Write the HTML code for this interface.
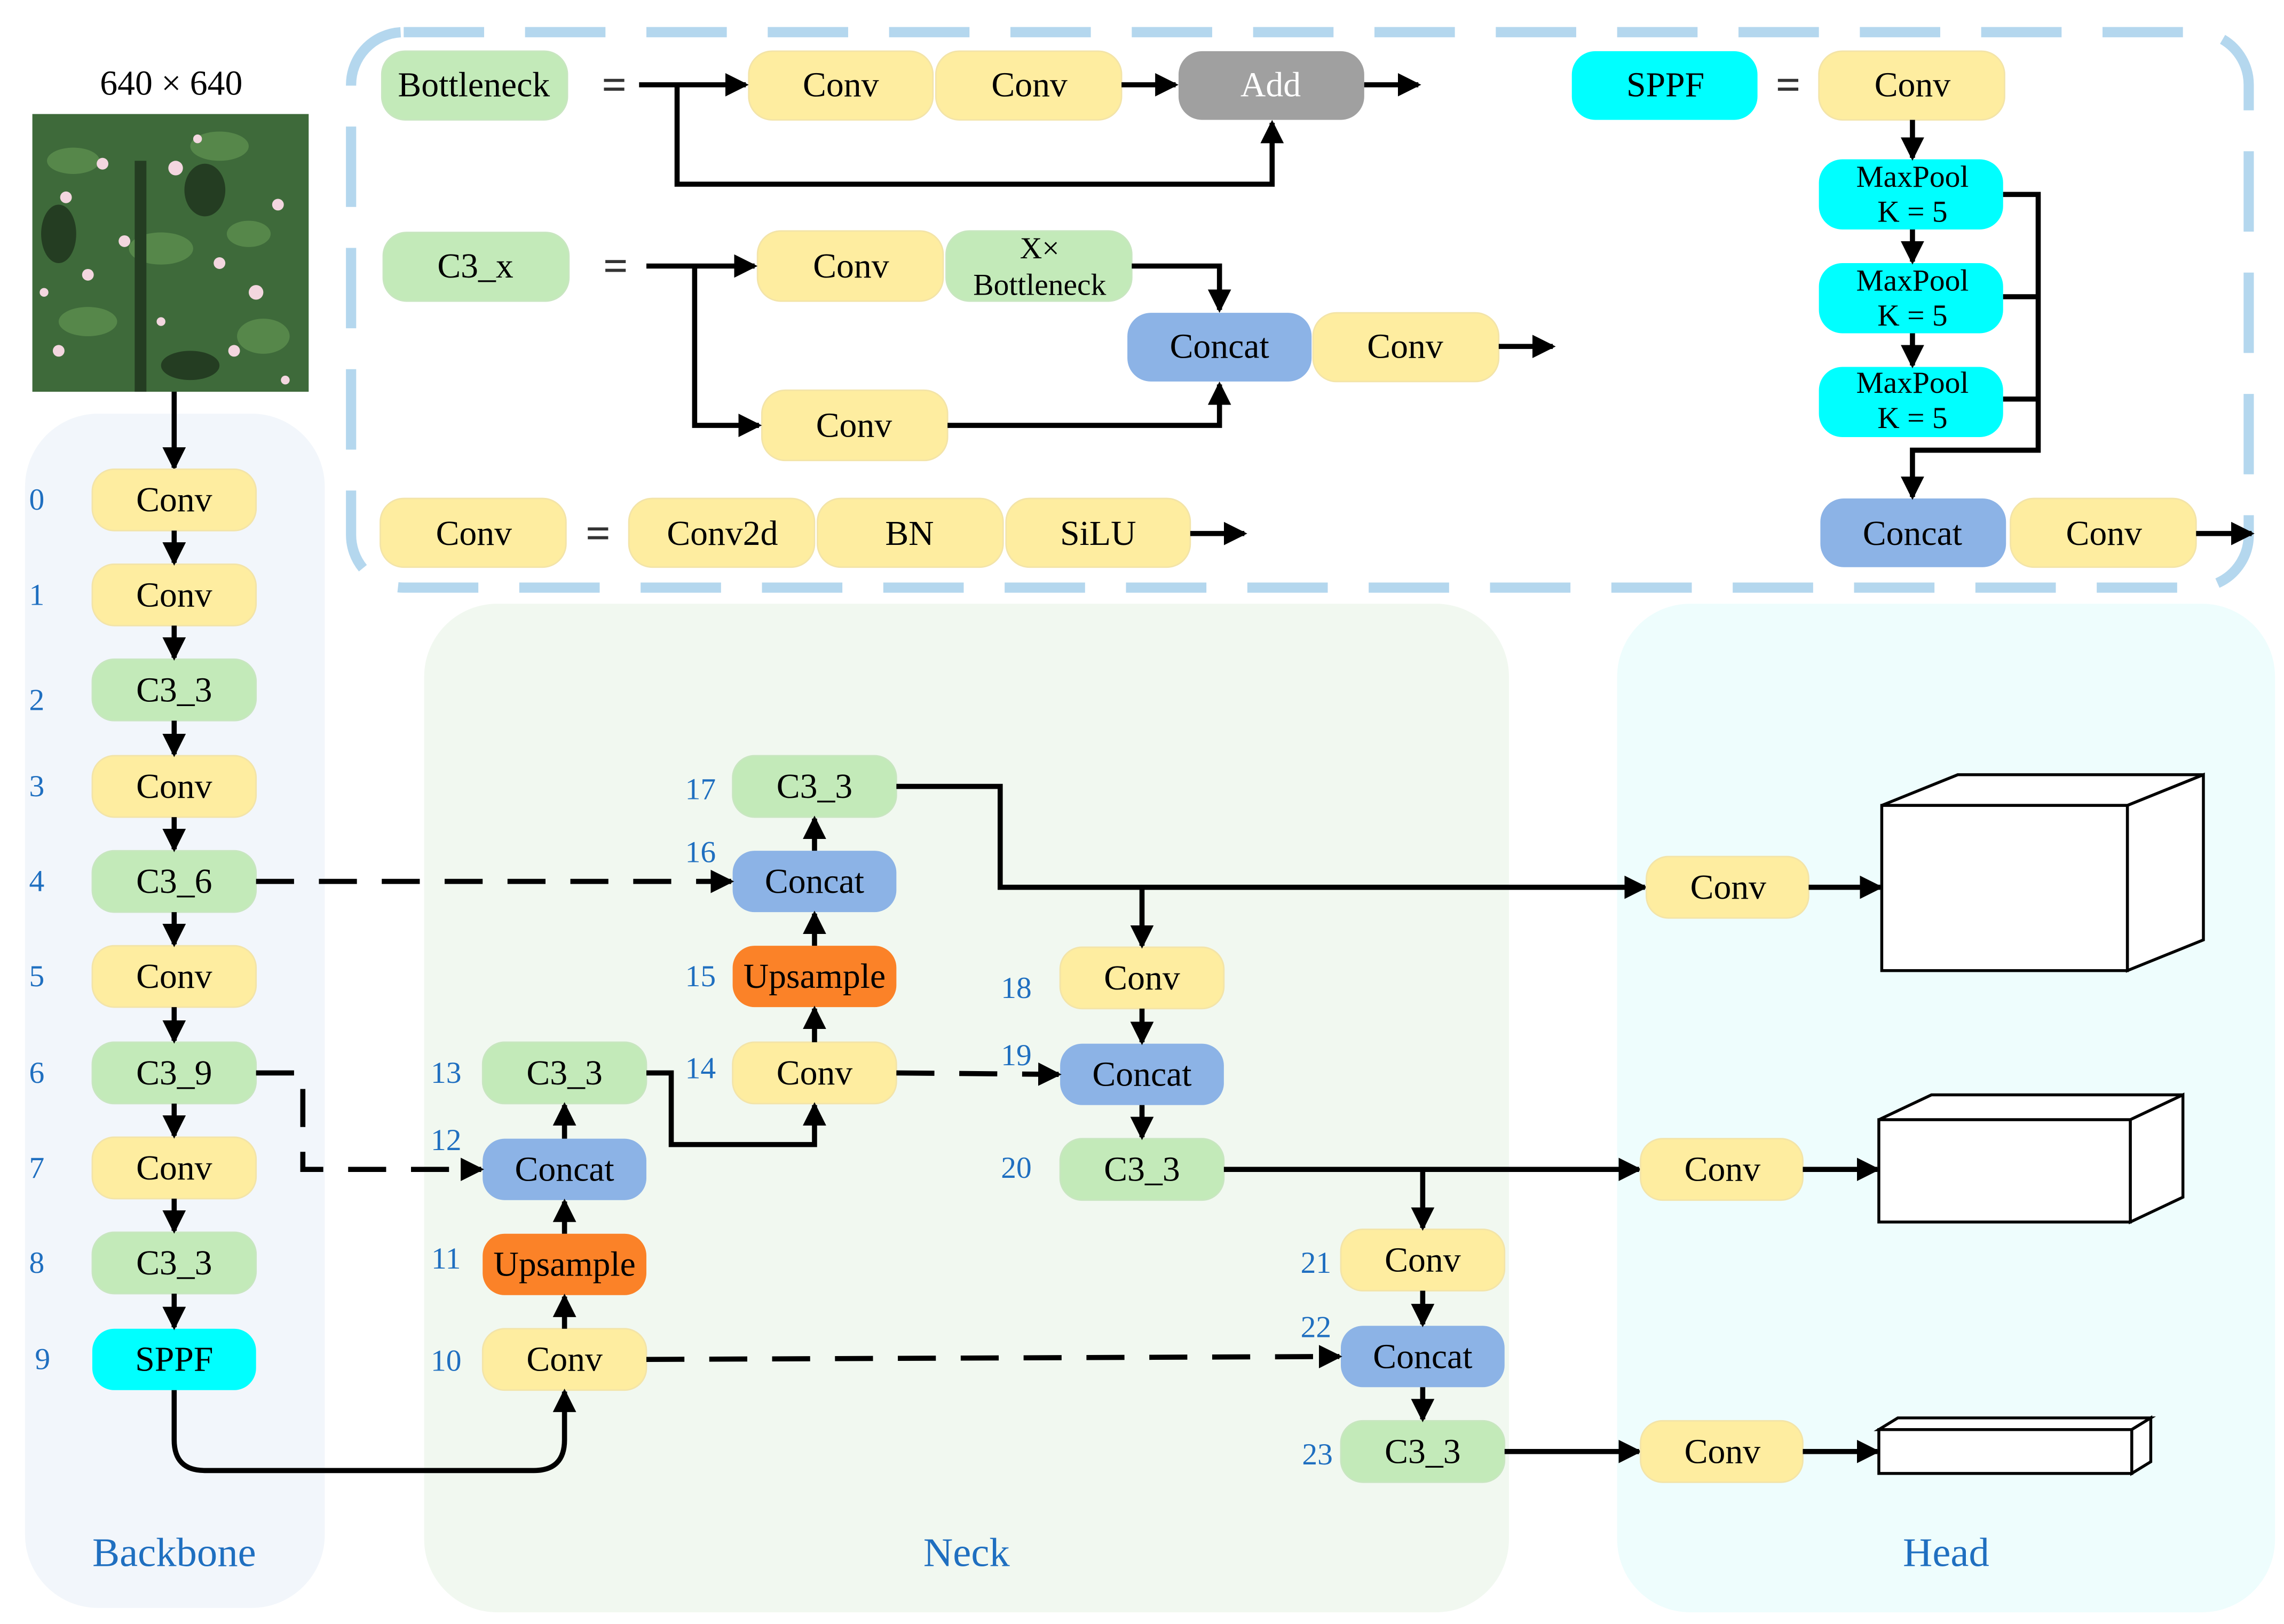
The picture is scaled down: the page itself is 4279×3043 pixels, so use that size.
<!DOCTYPE html>
<html><head><meta charset="utf-8"><style>
html,body{margin:0;padding:0;background:#fff}
svg{display:block}
text{font-family:"Liberation Serif",serif;}
.t{font-size:24px;fill:#000;text-anchor:middle;dominant-baseline:central}
.n{font-size:21px;fill:#1f6fc0;text-anchor:middle;dominant-baseline:central}
.l{stroke:#000;stroke-width:3.5;fill:none}
.d{stroke:#000;stroke-width:3.5;fill:none;stroke-dasharray:26 17}
.y{fill:#feeda0;stroke:#f3e4a8;stroke-width:1}
.g{fill:#c3eab9;stroke:#c8e6c0;stroke-width:1}
.c{fill:#00ffff}
.b{fill:#8cb3e6}
.o{fill:#fb8228}
.eq{font-size:30px;fill:#333;text-anchor:middle;dominant-baseline:central;font-weight:bold}
</style></head><body>
<svg width="4279" height="3043" viewBox="0 0 1562 1111" xmlns="http://www.w3.org/2000/svg">
<defs>
<marker id="a" markerUnits="userSpaceOnUse" markerWidth="16" markerHeight="16" refX="14" refY="8" orient="auto">
<path d="M0,0 L16,8 L0,16 Z" fill="#000"/>
</marker>
</defs>
<rect x="17" y="283" width="205" height="817" rx="50" fill="#f2f6fb"/>
<rect x="290" y="413" width="742" height="690" rx="50" fill="#f1f8f0"/>
<rect x="1106" y="413" width="450" height="690" rx="50" fill="#eefdfd"/>
<rect x="240" y="22" width="1298" height="380" rx="36" fill="none" stroke="#b4d7ee" stroke-width="7" stroke-dasharray="55 28"/>

<text x="117" y="57" class="t" style="font-size:24px">640 × 640</text>
<rect x="22" y="78" width="189" height="190" fill="#3e6a3a"/>
<g fill="#5d8f4f" opacity="0.8">
<ellipse cx="50" cy="110" rx="18" ry="9"/><ellipse cx="150" cy="100" rx="20" ry="10"/><ellipse cx="110" cy="170" rx="22" ry="11"/>
<ellipse cx="60" cy="220" rx="20" ry="10"/><ellipse cx="180" cy="230" rx="18" ry="12"/><ellipse cx="170" cy="160" rx="15" ry="9"/>
</g>
<g fill="#243d22"><rect x="92" y="110" width="8" height="158"/><ellipse cx="40" cy="160" rx="12" ry="20"/><ellipse cx="140" cy="130" rx="14" ry="18"/><ellipse cx="130" cy="250" rx="20" ry="10"/></g>
<g fill="#f3d6df">
<circle cx="45" cy="135" r="4"/><circle cx="70" cy="112" r="4"/><circle cx="120" cy="115" r="5"/><circle cx="60" cy="188" r="4"/><circle cx="85" cy="165" r="4"/>
<circle cx="190" cy="140" r="4"/><circle cx="175" cy="200" r="5"/><circle cx="150" cy="180" r="4"/><circle cx="40" cy="240" r="4"/><circle cx="195" cy="260" r="3"/>
<circle cx="110" cy="220" r="3"/><circle cx="135" cy="95" r="3"/><circle cx="30" cy="200" r="3"/><circle cx="160" cy="240" r="4"/>
</g>
<path class="l" d="M119 268 V320" marker-end="url(#a)"/>

<g>
<rect class="y" x="63" y="321" width="112" height="42" rx="15"/><text class="t" x="119" y="342">Conv</text>
<rect class="y" x="63" y="386" width="112" height="42" rx="15"/><text class="t" x="119" y="407">Conv</text>
<rect class="g" x="63" y="451" width="112" height="42" rx="15"/><text class="t" x="119" y="472">C3_3</text>
<rect class="y" x="63" y="517" width="112" height="42" rx="15"/><text class="t" x="119" y="538">Conv</text>
<rect class="g" x="63" y="582" width="112" height="42" rx="15"/><text class="t" x="119" y="603">C3_6</text>
<rect class="y" x="63" y="647" width="112" height="42" rx="15"/><text class="t" x="119" y="668">Conv</text>
<rect class="g" x="63" y="713" width="112" height="42" rx="15"/><text class="t" x="119" y="734">C3_9</text>
<rect class="y" x="63" y="778" width="112" height="42" rx="15"/><text class="t" x="119" y="799">Conv</text>
<rect class="g" x="63" y="843" width="112" height="42" rx="15"/><text class="t" x="119" y="864">C3_3</text>
<rect class="c" x="63" y="909" width="112" height="42" rx="15"/><text class="t" x="119" y="930">SPPF</text>
</g>
<text class="n" x="25" y="342">0</text><text class="n" x="25" y="407">1</text><text class="n" x="25" y="479">2</text><text class="n" x="25" y="538">3</text>
<text class="n" x="25" y="603">4</text><text class="n" x="25" y="668">5</text><text class="n" x="25" y="734">6</text><text class="n" x="25" y="799">7</text>
<text class="n" x="25" y="864">8</text><text class="n" x="29" y="930">9</text>
<g class="l">
<path d="M119 363 V385" marker-end="url(#a)"/><path d="M119 428 V450" marker-end="url(#a)"/><path d="M119 493 V516" marker-end="url(#a)"/>
<path d="M119 559 V581" marker-end="url(#a)"/><path d="M119 624 V646" marker-end="url(#a)"/><path d="M119 689 V712" marker-end="url(#a)"/>
<path d="M119 755 V777" marker-end="url(#a)"/><path d="M119 820 V842" marker-end="url(#a)"/><path d="M119 885 V908" marker-end="url(#a)"/>
</g>
<text x="119" y="1062" style="font-size:28px;fill:#1f6fc0;text-anchor:middle;dominant-baseline:central">Backbone</text>
<text x="661" y="1062" style="font-size:28px;fill:#1f6fc0;text-anchor:middle;dominant-baseline:central">Neck</text>
<text x="1331" y="1062" style="font-size:28px;fill:#1f6fc0;text-anchor:middle;dominant-baseline:central">Head</text>

<rect class="y" x="330" y="909" width="112" height="42" rx="15"/><text class="t" x="386" y="930">Conv</text>
<rect class="o" x="330" y="844" width="112" height="42" rx="15"/><text class="t" x="386" y="865">Upsample</text>
<rect class="b" x="330" y="779" width="112" height="42" rx="15"/><text class="t" x="386" y="800">Concat</text>
<rect class="g" x="330" y="713" width="112" height="42" rx="15"/><text class="t" x="386" y="734">C3_3</text>
<rect class="y" x="501" y="713" width="112" height="42" rx="15"/><text class="t" x="557" y="734">Conv</text>
<rect class="o" x="501" y="647" width="112" height="42" rx="15"/><text class="t" x="557" y="668">Upsample</text>
<rect class="b" x="501" y="582" width="112" height="42" rx="15"/><text class="t" x="557" y="603">Concat</text>
<rect class="g" x="501" y="517" width="112" height="42" rx="15"/><text class="t" x="557" y="538">C3_3</text>
<rect class="y" x="725" y="648" width="112" height="42" rx="15"/><text class="t" x="781" y="669">Conv</text>
<rect class="b" x="725" y="714" width="112" height="42" rx="15"/><text class="t" x="781" y="735">Concat</text>
<rect class="g" x="725" y="779" width="112" height="42" rx="15"/><text class="t" x="781" y="800">C3_3</text>
<rect class="y" x="917" y="841" width="112" height="42" rx="15"/><text class="t" x="973" y="862">Conv</text>
<rect class="b" x="917" y="907" width="112" height="42" rx="15"/><text class="t" x="973" y="928">Concat</text>
<rect class="g" x="917" y="972" width="112" height="42" rx="15"/><text class="t" x="973" y="993">C3_3</text>
<text class="n" x="305" y="931">10</text><text class="n" x="305" y="861">11</text><text class="n" x="305" y="780">12</text><text class="n" x="305" y="734">13</text>
<text class="n" x="479" y="731">14</text><text class="n" x="479" y="668">15</text><text class="n" x="479" y="583">16</text><text class="n" x="479" y="540">17</text>
<text class="n" x="695" y="676">18</text><text class="n" x="695" y="722">19</text><text class="n" x="695" y="799">20</text>
<text class="n" x="900" y="864">21</text><text class="n" x="900" y="908">22</text><text class="n" x="901" y="995">23</text>

<g class="l">
<path d="M119 951 V985 Q119 1006 140 1006 H365 Q386 1006 386 985 V952" marker-end="url(#a)"/>
<path d="M386 909 V887" marker-end="url(#a)"/><path d="M386 844 V822" marker-end="url(#a)"/><path d="M386 779 V756" marker-end="url(#a)"/>
<path d="M442 734 H459 V783 H557 V756" marker-end="url(#a)"/>
<path d="M557 713 V690" marker-end="url(#a)"/><path d="M557 647 V625" marker-end="url(#a)"/><path d="M557 582 V560" marker-end="url(#a)"/>
<path d="M613 538 H684 V607 H1125" marker-end="url(#a)"/>
<path d="M781 607 V647" marker-end="url(#a)"/>
<path d="M781 690 V713" marker-end="url(#a)"/><path d="M781 756 V778" marker-end="url(#a)"/>
<path d="M837 800 H1121" marker-end="url(#a)"/>
<path d="M973 800 V840" marker-end="url(#a)"/>
<path d="M973 883 V906" marker-end="url(#a)"/><path d="M973 949 V971" marker-end="url(#a)"/>
<path d="M1029 993 H1121" marker-end="url(#a)"/>
</g>
<g class="d">
<path d="M175 603 H500" marker-end="url(#a)"/>
<path d="M175 734 H207 V800 H329" marker-end="url(#a)"/>
<path d="M613 734 L724 735" marker-end="url(#a)"/>
<path d="M442 930 L916 928" marker-end="url(#a)"/>
</g>

<rect class="y" x="1126" y="586" width="111" height="42" rx="15"/><text class="t" x="1182" y="607">Conv</text>
<rect class="y" x="1122" y="779" width="111" height="42" rx="15"/><text class="t" x="1178" y="800">Conv</text>
<rect class="y" x="1122" y="972" width="111" height="42" rx="15"/><text class="t" x="1178" y="993">Conv</text>
<g class="l">
<path d="M1237 607 H1286" marker-end="url(#a)"/><path d="M1233 800 H1284" marker-end="url(#a)"/><path d="M1233 993 H1284" marker-end="url(#a)"/>
</g>
<g fill="#fff" stroke="#000" stroke-width="2">
<path d="M1287 551 L1339 530 H1507 L1455 551 Z"/><path d="M1455 551 L1507 530 V643 L1455 664 Z"/><rect x="1287" y="551" width="168" height="113"/>
<path d="M1285 766 L1321 749 H1493 L1457 766 Z"/><path d="M1457 766 L1493 749 V819 L1457 836 Z"/><rect x="1285" y="766" width="172" height="70"/>
<path d="M1285 978 L1298 970 H1471 L1458 978 Z"/><path d="M1458 978 L1471 970 V1000 L1458 1008 Z"/><rect x="1285" y="978" width="173" height="30"/>
</g>

<rect class="g" x="261" y="35" width="127" height="47" rx="16"/><text class="t" x="324" y="58">Bottleneck</text>
<text class="eq" x="420" y="58">=</text>
<rect class="y" x="512" y="35" width="126" height="47" rx="16"/><text class="t" x="575" y="58">Conv</text>
<rect class="y" x="640" y="35" width="127" height="47" rx="16"/><text class="t" x="704" y="58">Conv</text>
<rect x="806" y="35" width="127" height="47" rx="16" fill="#a0a0a0"/><text class="t" x="869" y="58" style="fill:#fff">Add</text>
<g class="l">
<path d="M437 58 H510" marker-end="url(#a)"/><path d="M767 58 H804" marker-end="url(#a)"/><path d="M933 58 H970" marker-end="url(#a)"/>
<path d="M463 58 V126 H870 V84" marker-end="url(#a)"/>
</g>
<rect class="g" x="262" y="159" width="127" height="47" rx="16"/><text class="t" x="325" y="182">C3_x</text>
<text class="eq" x="421" y="182">=</text>
<rect class="y" x="518" y="158" width="127" height="48" rx="16"/><text class="t" x="582" y="182">Conv</text>
<rect class="g" x="647" y="158" width="127" height="48" rx="16"/><text class="t" x="711" y="170" style="font-size:21px">X×</text><text class="t" x="711" y="195" style="font-size:21px">Bottleneck</text>
<rect class="b" x="771" y="214" width="126" height="47" rx="16"/><text class="t" x="834" y="237">Concat</text>
<rect class="y" x="898" y="214" width="127" height="47" rx="16"/><text class="t" x="961" y="237">Conv</text>
<rect class="y" x="521" y="267" width="127" height="48" rx="16"/><text class="t" x="584" y="291">Conv</text>
<g class="l">
<path d="M442 182 H516" marker-end="url(#a)"/><path d="M475 182 V291 H519" marker-end="url(#a)"/>
<path d="M774 182 H834 V212" marker-end="url(#a)"/><path d="M648 291 H834 V263" marker-end="url(#a)"/>
<path d="M1025 237 H1062" marker-end="url(#a)"/>
</g>
<rect class="y" x="260" y="341" width="127" height="47" rx="16"/><text class="t" x="324" y="365">Conv</text>
<text class="eq" x="409" y="365">=</text>
<rect class="y" x="430" y="341" width="127" height="47" rx="16"/><text class="t" x="494" y="365">Conv2d</text>
<rect class="y" x="559" y="341" width="127" height="47" rx="16"/><text class="t" x="622" y="365">BN</text>
<rect class="y" x="688" y="341" width="126" height="47" rx="16"/><text class="t" x="751" y="365">SiLU</text>
<path class="l" d="M814 365 H851" marker-end="url(#a)"/>
<rect class="c" x="1075" y="35" width="127" height="47" rx="16"/><text class="t" x="1139" y="58">SPPF</text>
<text class="eq" x="1223" y="58">=</text>
<rect class="y" x="1244" y="35" width="127" height="47" rx="16"/><text class="t" x="1308" y="58">Conv</text>
<rect class="c" x="1244" y="109" width="126" height="48" rx="16"/><text class="t" x="1308" y="121" style="font-size:21px">MaxPool</text><text class="t" x="1308" y="145" style="font-size:21px">K = 5</text>
<rect class="c" x="1244" y="180" width="126" height="48" rx="16"/><text class="t" x="1308" y="192" style="font-size:21px">MaxPool</text><text class="t" x="1308" y="216" style="font-size:21px">K = 5</text>
<rect class="c" x="1244" y="251" width="126" height="48" rx="16"/><text class="t" x="1308" y="262" style="font-size:21px">MaxPool</text><text class="t" x="1308" y="286" style="font-size:21px">K = 5</text>
<rect class="b" x="1245" y="341" width="127" height="47" rx="16"/><text class="t" x="1308" y="365">Concat</text>
<rect class="y" x="1375" y="341" width="127" height="47" rx="16"/><text class="t" x="1439" y="365">Conv</text>
<g class="l">
<path d="M1308 82 V108" marker-end="url(#a)"/><path d="M1308 157 V179" marker-end="url(#a)"/><path d="M1308 228 V250" marker-end="url(#a)"/>
<path d="M1370 133 H1394 V308 H1308 V340" marker-end="url(#a)"/>
<path d="M1370 203 H1394"/><path d="M1370 273 H1394"/>
<path d="M1502 365 H1540" marker-end="url(#a)"/>
</g>
</svg>
</body></html>
